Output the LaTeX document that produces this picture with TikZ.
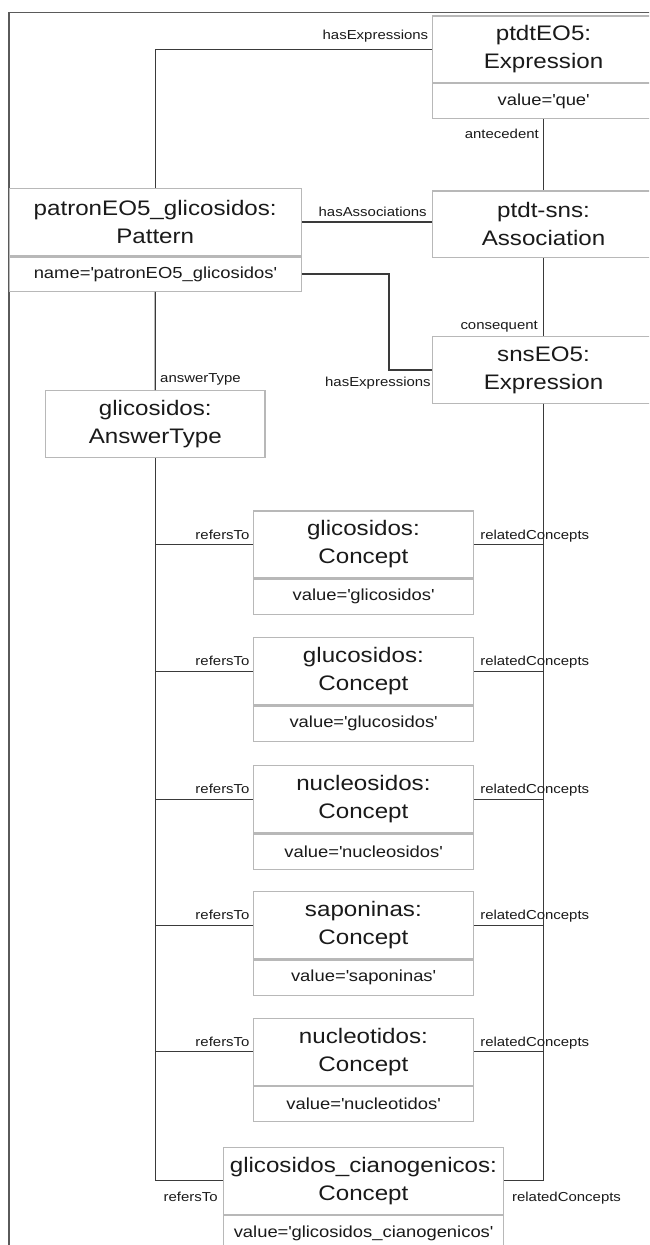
\documentclass[tikz,border=0pt]{standalone}
\usepackage{fontspec}
\setmainfont{Liberation Sans}[FakeStretch=1.15]
\definecolor{boxc}{HTML}{B8B8B8}
\definecolor{linec}{HTML}{3A3A3A}
\definecolor{framec}{HTML}{5A5A5A}
\definecolor{txt}{HTML}{1A1A1A}
\newcommand{\q}{\textquotesingle}
\tikzset{
 hdr/.style={draw=boxc, line width=1.2pt, fill=white, align=center, text=txt,
   font=\fontsize{21}{28}\selectfont, inner sep=0pt, minimum height=67pt},
 val/.style={draw=boxc, line width=1.2pt, fill=white, align=center, text=txt,
   font=\fontsize{16}{19}\selectfont, inner sep=0pt, minimum height=35.3pt, anchor=north},
 conn/.style={draw=linec, line width=1.3pt},
 lbl/.style={font=\fontsize{13}{15}\selectfont, inner sep=0pt, text=txt},
}
\begin{document}
\begin{tikzpicture}[x=1pt,y=-1pt]
\useasboundingbox (0,0) rectangle (649,1245);
\clip (0,0) rectangle (649,1245);
\fill[white] (0,0) rectangle (649,1245);
% frame
\draw[framec, line width=1.2pt] (9,1260) -- (9,12.7) -- (670,12.7);

% nodes
\node[hdr, minimum width=222pt, minimum height=66.3pt] (ptdt) at (543.5,49.15) {ptdtEO5:\\Expression};
\node[val, minimum width=222pt] (ptdtv) at (ptdt.south) {value=\q que\q};
\node[hdr, minimum width=222pt, minimum height=66.7pt] (asn) at (543.5,224.35) {ptdt-sns:\\Association};
\node[hdr, minimum width=222pt, minimum height=66.6pt] (sns) at (543.5,370) {snsEO5:\\Expression};
\node[hdr, minimum width=292.2pt, minimum height=67.4pt] (pat) at (155.2,222) {patronEO5\_glicosidos:\\Pattern};
\node[val, minimum width=292.2pt, minimum height=34.3pt] (patv) at (pat.south) {name=\q patronEO5\_glicosidos\q};
\node[hdr, minimum width=219.5pt] (ans) at (155.3,424.2) {glicosidos:\\AnswerType};

\node[hdr, minimum width=220.2pt] (c1) at (363.4,544.5) {glicosidos:\\Concept};
\node[val, minimum width=220.2pt] (c1v) at (c1.south) {value=\q glicosidos\q};
\node[hdr, minimum width=220.2pt] (c2) at (363.4,671.2) {glucosidos:\\Concept};
\node[val, minimum width=220.2pt] (c2v) at (c2.south) {value=\q glucosidos\q};
\node[hdr, minimum width=220.2pt] (c3) at (363.4,799.2) {nucleosidos:\\Concept};
\node[val, minimum width=220.2pt] (c3v) at (c3.south) {value=\q nucleosidos\q};
\node[hdr, minimum width=220.2pt] (c4) at (363.4,925.2) {saponinas:\\Concept};
\node[val, minimum width=220.2pt] (c4v) at (c4.south) {value=\q saponinas\q};
\node[hdr, minimum width=220.2pt] (c5) at (363.4,1051.8) {nucleotidos:\\Concept};
\node[val, minimum width=220.2pt] (c5v) at (c5.south) {value=\q nucleotidos\q};
\node[hdr, minimum width=279.8pt] (c6) at (363.4,1180.8) {glicosidos\_cianogenicos:\\Concept};
\node[val, minimum width=279.8pt] (c6v) at (c6.south) {value=\q glicosidos\_cianogenicos\q};

% connectors
\draw[conn] (ptdt.west) -| (pat.north);
\draw[conn] (pat.east) -- (pat.east -| asn.west);
\draw[conn] (ptdtv.south) -- (asn.north);
\draw[conn] (asn.south) -- (sns.north);
\draw[conn] (patv.east) -- ++(87,0) coordinate (bend) |- (sns.west);
\draw[conn] (patv.south) -- (ans.north);
\foreach \c in {c1,c2,c3,c4,c5,c6}{
  \draw[conn] (ans.south) |- (\c.west);
  \draw[conn] (sns.south) |- (\c.east);
}

% labels
\node[lbl, anchor=base east, xshift=-3.5pt, yshift=10pt] at (ptdt.west) {hasExpressions};
\node[lbl, anchor=base east, xshift=-5pt, yshift=6pt] at (pat.east -| asn.west) {hasAssociations};
\node[lbl, anchor=base east, xshift=-4.5pt, yshift=-19pt] at (ptdtv.south) {antecedent};
\node[lbl, anchor=base east, xshift=-5.5pt, yshift=6.7pt] at (sns.north) {consequent};
\node[lbl, anchor=base east, xshift=-1pt, yshift=-16pt] at (sns.west) {hasExpressions};
\node[lbl, anchor=base west, xshift=4.7pt, yshift=7.4pt] at (ans.north) {answerType};
\foreach \c in {c1,c2,c3,c4,c5}{
  \node[lbl, anchor=base east, xshift=-3pt, yshift=5.5pt] at (\c.west) {refersTo};
  \node[lbl, anchor=base west, xshift=6pt, yshift=5.5pt] at (\c.east) {relatedConcepts};
}
\node[lbl, anchor=base east, xshift=-5pt, yshift=-20.5pt] at (c6.west) {refersTo};
\node[lbl, anchor=base west, xshift=8pt, yshift=-20.5pt] at (c6.east) {relatedConcepts};
\end{tikzpicture}
\end{document}
